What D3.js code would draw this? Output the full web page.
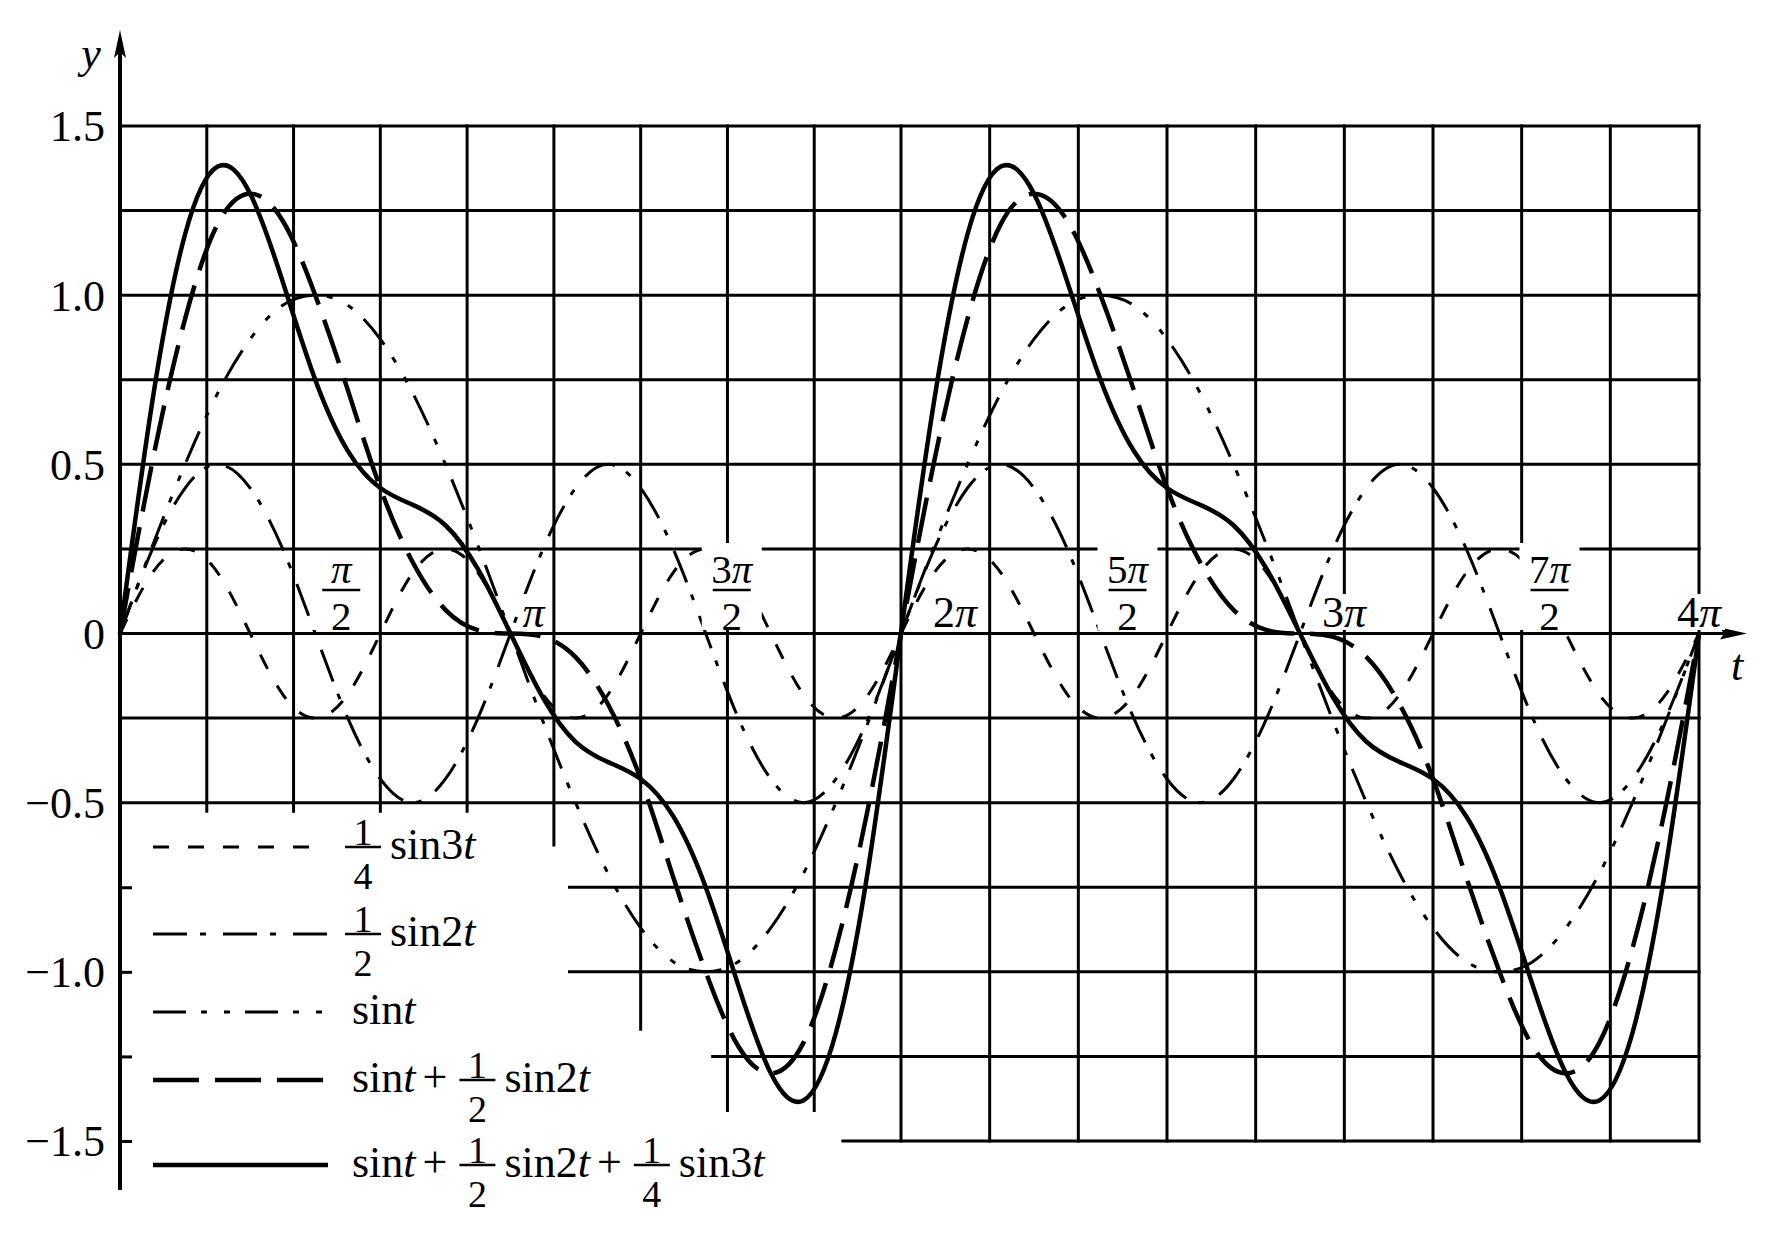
<!DOCTYPE html>
<html><head><meta charset="utf-8">
<script src="https://cdn.jsdelivr.net/npm/d3@7"></script>
<style>
html,body{margin:0;padding:0;background:#fff;}
svg{display:block;font-family:"Liberation Serif","Times New Roman",serif;}
</style></head><body>
<svg id="chart" width="1784" height="1238"></svg>
<script>
// ---------------- data ----------------
// sample points, t in degrees
const tDeg = [0,15,30,45,60,75,90,105,120,135,150,165,180,195,210,225,240,255,270,285,300,315,330,345,
              360,375,390,405,420,435,450,465,480,495,510,525,540,555,570,585,600,615,630,645,660,675,690,705,720];
const quarterSin3t = [0,0.18,0.25,0.18,0,-0.18,-0.25,-0.18, 0,0.18,0.25,0.18,0,-0.18,-0.25,-0.18,
                      0,0.18,0.25,0.18,0,-0.18,-0.25,-0.18, 0,0.18,0.25,0.18,0,-0.18,-0.25,-0.18,
                      0,0.18,0.25,0.18,0,-0.18,-0.25,-0.18, 0,0.18,0.25,0.18,0,-0.18,-0.25,-0.18, 0];
const halfSin2t = [0,0.25,0.43,0.5,0.43,0.25,0,-0.25,-0.43,-0.5,-0.43,-0.25,
                   0,0.25,0.43,0.5,0.43,0.25,0,-0.25,-0.43,-0.5,-0.43,-0.25,
                   0,0.25,0.43,0.5,0.43,0.25,0,-0.25,-0.43,-0.5,-0.43,-0.25,
                   0,0.25,0.43,0.5,0.43,0.25,0,-0.25,-0.43,-0.5,-0.43,-0.25, 0];
const sinT = [0,0.26,0.5,0.71,0.87,0.97,1,0.97,0.87,0.71,0.5,0.26,0,-0.26,-0.5,-0.71,-0.87,-0.97,-1,-0.97,-0.87,-0.71,-0.5,-0.26,
              0,0.26,0.5,0.71,0.87,0.97,1,0.97,0.87,0.71,0.5,0.26,0,-0.26,-0.5,-0.71,-0.87,-0.97,-1,-0.97,-0.87,-0.71,-0.5,-0.26, 0];
const sinTHalfSin2t = [0,0.51,0.93,1.21,1.30,1.22,1.00,0.72,0.43,0.21,0.07,0.01,0,-0.01,-0.07,-0.21,-0.43,-0.72,-1.00,-1.22,-1.30,-1.21,-0.93,-0.51,
                       0,0.51,0.93,1.21,1.30,1.22,1.00,0.72,0.43,0.21,0.07,0.01,0,-0.01,-0.07,-0.21,-0.43,-0.72,-1.00,-1.22,-1.30,-1.21,-0.93,-0.51, 0];
const sumAll = [0,0.69,1.18,1.38,1.30,1.04,0.75,0.54,0.43,0.38,0.32,0.19,0,-0.19,-0.32,-0.38,-0.43,-0.54,-0.75,-1.04,-1.30,-1.38,-1.18,-0.69,
                0,0.69,1.18,1.38,1.30,1.04,0.75,0.54,0.43,0.38,0.32,0.19,0,-0.19,-0.32,-0.38,-0.43,-0.54,-0.75,-1.04,-1.30,-1.38,-1.18,-0.69, 0];

const yTickValues = [1.5,1,0.5,0,-0.5,-1,-1.5];
const yTickLabels = ["1.5","1.0","0.5","0","\u22120.5","\u22121.0","\u22121.5"];
const xTickPi = [0.5,1,1.5,2,2.5,3,3.5,4];
const xTickNum = ["π","π","3π","2π","5π","3π","7π","4π"];
const xTickDen = ["2","","2","","2","","2",""];
const hGridValues = [1.5,1.25,1,0.75,0.5,0.25,0,-0.25,-0.5,-0.75,-1,-1.25,-1.5];
const gridColumns = 18;

// legend formulas: ["f",num,den] fraction, ["r",text] roman, ["i",text] italic, ["o",text] operator
const legendFormulas = [
  [["f","1","4"],["r","sin3"],["i","t"]],
  [["f","1","2"],["r","sin2"],["i","t"]],
  [["r","sin"],["i","t"]],
  [["r","sin"],["i","t"],["o","+"],["f","1","2"],["r","sin2"],["i","t"]],
  [["r","sin"],["i","t"],["o","+"],["f","1","2"],["r","sin2"],["i","t"],["o","+"],["f","1","4"],["r","sin3"],["i","t"]]
];
const seriesList = [quarterSin3t, halfSin2t, sinT, sinTHalfSin2t, sumAll];

// ---------------- styles / layout ----------------
const seriesStyle = [
  {w:3,   dash:"16 19"},
  {w:3,   dash:"34 13 6 17"},
  {w:3,   dash:"33 15 6 17 6 15"},
  {w:4.5, dash:"46 16"},
  {w:4.5, dash:null}
];
const FONT = 44;
const svg = d3.select("#chart");
const x = d3.scaleLinear().domain([0, 2*Math.PI, 4*Math.PI]).range([120, 901, 1699]);
const y = d3.scaleLinear().domain([-1.5, 1.5]).range([1141, 126]);
const tRad = tDeg.map(d => d*Math.PI/180);
const colStep = 4*Math.PI/gridColumns;

// grid: horizontal line start column (legend area is blank), vertical line lower end
const hStartCol = v => v === -0.75 || v === -1 ? 5.18 : v === -1.25 ? 6.83 : v === -1.5 ? 8.33 : 0;
const vBottom = i => i <= 4 ? -0.525 : i === 5 ? -0.625 : i === 6 ? -1.17 : i <= 8 ? -1.41 : -1.5;

const grid = svg.append("g").attr("stroke","#000").attr("stroke-width",3).attr("stroke-linecap","square");
hGridValues.forEach(v => {
  grid.append("line")
    .attr("x1", x(hStartCol(v)*colStep)).attr("x2", x(4*Math.PI))
    .attr("y1", y(v)).attr("y2", y(v));
});
d3.range(1, gridColumns+1).forEach(i => {
  grid.append("line")
    .attr("x1", x(i*colStep)).attr("x2", x(i*colStep))
    .attr("y1", y(1.5)).attr("y2", y(vBottom(i)));
});
// x axis extension with arrow
svg.append("line").attr("x1", x(4*Math.PI)).attr("x2", 1735).attr("y1", y(0)).attr("y2", y(0))
  .attr("stroke","#000").attr("stroke-width",3);
svg.append("path").attr("d", `M1747,${y(0)} L1720,${y(0)-6} L1724,${y(0)} L1720,${y(0)+6} Z`).attr("fill","#000");

// y axis
svg.append("line").attr("x1", x(0)).attr("x2", x(0)).attr("y1", 1190).attr("y2", 45)
  .attr("stroke","#000").attr("stroke-width",4);
svg.append("path").attr("d", `M${x(0)},30 L${x(0)-6},58 L${x(0)},52 L${x(0)+6},58 Z`).attr("fill","#000");
// small ticks on y axis in legend area
const tickAxis = d3.axisRight(y).tickValues([-0.75,-1,-1.25,-1.5]).tickSize(12).tickFormat("");
svg.append("g").attr("transform",`translate(${x(0)},0)`).call(tickAxis)
  .call(g => g.select(".domain").remove())
  .selectAll("line").attr("stroke","#000").attr("stroke-width",3);

// y tick labels
const yAxis = d3.axisLeft(y).tickValues(yTickValues).tickSize(0).tickPadding(15)
  .tickFormat((d,i) => yTickLabels[i]);
svg.append("g").attr("transform",`translate(${x(0)},0)`).call(yAxis)
  .call(g => g.select(".domain").remove())
  .selectAll("text").attr("font-size", FONT).attr("font-family",'"Liberation Serif","Times New Roman",serif')
  .attr("fill","#000").attr("dy","0.34em");

svg.append("text").attr("x", 91).attr("y", 68).attr("text-anchor","middle").attr("font-size",FONT)
  .attr("font-style","italic").text("y");
svg.append("text").attr("x", 1737).attr("y", 680).attr("text-anchor","middle").attr("font-size",FONT)
  .attr("font-style","italic").text("t");

// x tick labels (with white backgrounds)
const xLabelDx = [26, 23, 26, 54, 27, 44, 50, 0];
const xLabels = svg.append("g");
function piText(g, cx, base, s, fs) {
  const t = g.append("text").attr("x", cx).attr("y", base).attr("text-anchor", "middle")
    .attr("font-size", fs);
  const m = s.match(/^(\d*)(π)$/);
  if (m[1]) t.append("tspan").text(m[1]);
  t.append("tspan").attr("font-style","italic").text(m[2]);
  return t;
}
xTickPi.forEach((v,i) => {
  const cx = x(v*Math.PI) + xLabelDx[i];
  const g = xLabels.append("g");
  if (xTickDen[i]) {
    const top = i === 0 ? 553 : 543;
    g.append("rect").attr("x", cx-30).attr("y", top).attr("width", 60).attr("height", 630-top).attr("fill","#fff");
    piText(g, cx, 583, xTickNum[i], 41);
    g.append("line").attr("x1", cx-19).attr("x2", cx+19).attr("y1", 590).attr("y2", 590)
      .attr("stroke","#000").attr("stroke-width",2.5);
    g.append("text").attr("x", cx).attr("y", 630).attr("text-anchor","middle").attr("font-size",41).text(xTickDen[i]);
  } else {
    const r = g.append("rect").attr("fill","#fff");
    const t = piText(g, cx, 627, xTickNum[i], FONT);
    const b = t.node().getBBox();
    r.attr("x", b.x-2).attr("y", b.y+6).attr("width", b.width+4).attr("height", 630-(b.y+6));
  }
});

// curves
const line = d3.line().x((d,i) => x(tRad[i])).y(d => y(d)).curve(d3.curveNatural);
const curves = svg.append("g").attr("fill","none").attr("stroke","#000");
seriesList.forEach((s,k) => {
  curves.append("path").attr("d", line(s))
    .attr("stroke-width", seriesStyle[k].w)
    .attr("stroke-dasharray", seriesStyle[k].dash);
});
// keep labels above curves
xLabels.raise();

// legend
const legendRowY = [847, 934, 1012, 1080, 1165];
const legend = svg.append("g");
function formula(g, x0, base, parts) {
  let cx = x0;
  parts.forEach(p => {
    if (p[0] === "f") {
      const fs = 38, barY = base - 12;
      g.append("line").attr("x1", cx).attr("x2", cx+36).attr("y1", barY).attr("y2", barY)
        .attr("stroke","#000").attr("stroke-width",2.5);
      g.append("text").attr("x", cx+18).attr("y", barY-2).attr("text-anchor","middle").attr("font-size",fs).text(p[1]);
      g.append("text").attr("x", cx+18).attr("y", barY+42).attr("text-anchor","middle").attr("font-size",fs).text(p[2]);
      cx += 45;
    } else if (p[0] === "o") {
      const t = g.append("text").attr("x", cx+7).attr("y", base).attr("font-size",FONT).text(p[1]);
      cx += 7 + t.node().getComputedTextLength() + 12;
    } else {
      const t = g.append("text").attr("x", cx).attr("y", base).attr("font-size",FONT)
        .attr("font-style", p[0] === "i" ? "italic" : "normal").text(p[1]);
      cx += t.node().getComputedTextLength();
    }
  });
}
legendFormulas.forEach((parts,k) => {
  const ly = legendRowY[k];
  legend.append("line").attr("x1",153).attr("x2",328).attr("y1",ly).attr("y2",ly)
    .attr("stroke","#000").attr("stroke-width", seriesStyle[k].w)
    .attr("stroke-dasharray", seriesStyle[k].dash);
  formula(legend, parts[0][0] === "f" ? 345 : 352, ly + 12, parts);
});
</script>
</body></html>
